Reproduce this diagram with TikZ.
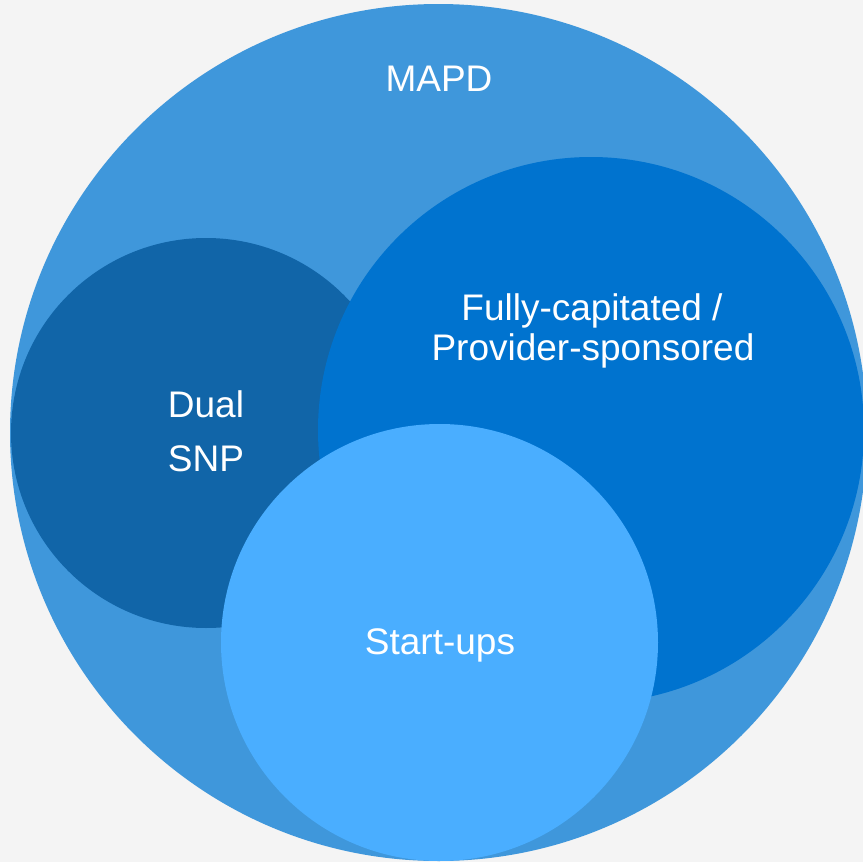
\documentclass[tikz,border=0pt]{standalone}
\usepackage{fontspec}
\setmainfont{Liberation Sans}
\definecolor{bg}{HTML}{F4F4F4}
\definecolor{mapd}{HTML}{3F97DB}
\definecolor{dual}{HTML}{1165A8}
\definecolor{fully}{HTML}{0073CF}
\definecolor{startup}{HTML}{4AAEFF}
\begin{document}
\begin{tikzpicture}[x=1pt,y=-1pt,
  label/.style={text=white,font=\fontsize{37}{42}\selectfont,inner sep=0pt,anchor=base}]
  % canvas
  \fill[bg] (0,0) rectangle (863,862);
  \useasboundingbox (0,0) rectangle (863,862);
  \begin{scope}
    \clip (0,0) rectangle (863,862);
    % nested circles
    \fill[mapd]    (438.5,432.5) circle[radius=428.5];
    \fill[dual]    (206,433)     circle[radius=195];
    \fill[fully]   (591,430)     circle[radius=273];
    \fill[startup] (439.5,642.5) circle[radius=218.5];
  \end{scope}
  % labels
  \node[label] (mapd) at (439,91) {MAPD};
  \node[label] (full1) at (592,320) {Fully-capitated /};
  \node[label] (full2) at (593,360) {Provider-sponsored};
  \node[label] (dual1) at (206,417) {Dual};
  \node[label] (dual2) at (206,471) {SNP};
  \node[label] (start) at (440,654) {Start-ups};
\end{tikzpicture}
\end{document}
